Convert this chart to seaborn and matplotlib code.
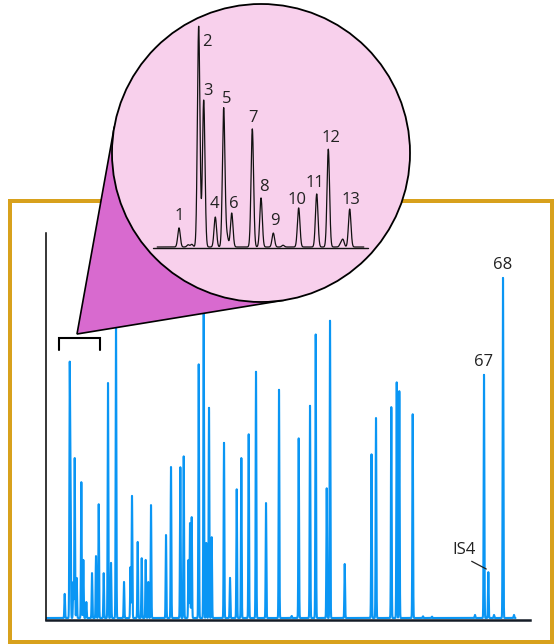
import numpy as np
import pandas as pd
import seaborn as sns
import matplotlib
matplotlib.use('Agg')
import matplotlib.pyplot as plt
from matplotlib.patches import Circle, Rectangle, Polygon
from matplotlib.transforms import IdentityTransform

# main chromatogram: retention time (min) and relative height (%)
peak_times = [1.87, 2.37, 2.45, 2.73, 2.87, 3.07, 3.53, 3.73, 4.03, 4.60, 5.00, 5.27,
              5.77, 6.20, 6.50, 7.00, 7.80, 8.45, 8.60, 9.17, 9.57, 9.97, 10.23, 10.50,
              12.00, 12.50, 13.43, 13.77, 14.25, 14.40, 14.57, 15.27, 15.77, 16.03, 16.30,
              16.57, 17.80, 18.40, 19.07, 19.53, 20.27, 21.00, 22.00, 23.30, 24.57, 25.27,
              26.40, 26.97, 28.07, 28.40, 29.87, 32.55, 33.00, 34.53, 35.07, 35.33, 36.67,
              37.70, 38.60, 42.90, 43.80, 44.23, 44.80, 45.70, 46.80]
peak_heights = [7.1, 71.5, 46.0, 10.6, 47.1, 11.8, 40.0, 17.1, 4.7, 13.2, 18.2, 33.5,
                13.2, 69.1, 16.2, 88.2, 10.6, 15.0, 35.9, 22.4, 17.6, 17.1, 10.6, 33.2,
                24.4, 44.4, 44.4, 47.6, 17.1, 27.9, 29.7, 74.7, 92.1, 22.1, 61.8,
                23.8, 51.5, 11.8, 37.9, 47.1, 54.1, 72.4, 33.8, 67.1, 0.6, 52.9,
                62.4, 83.5, 38.2, 87.4, 15.9, 48.2, 58.8, 62.1, 69.4, 66.8, 60.0,
                0.5, 0.4, 0.9, 71.5, 13.5, 0.9, 100.0, 0.9]
main_labels = {"67": 43.80, "68": 45.70}
is_label = "IS4"
is_time = 44.23

# zoomed window (bracketed region) and its peaks
zoom_range = (1.3, 5.4)
inset_times = [1.796, 1.97, 2.04, 2.171, 2.267, 2.488, 2.648, 2.711, 2.801, 3.194,
               3.360, 3.594, 3.78, 4.078, 4.422, 4.643, 4.88, 4.923, 5.051]
inset_heights = [8.6, 1.0, 1.2, 99.5, 66.2, 13.5, 62.6, 5.0, 15.3, 53.2,
                 22.1, 6.3, 0.8, 17.6, 23.9, 44.1, 1.5, 3.2, 17.1]
inset_names = ["1", "", "", "2", "3", "4", "5", "", "6", "7",
               "8", "9", "", "10", "11", "12", "", "", "13"]
# label offsets in pixels (dx, dy) from the peak top
label_offsets = {"1": (0, 12), "2": (8, -16), "3": (4.5, 9), "4": (-1, 13), "5": (3, 9),
                 "6": (2, 9), "7": (1, 11), "8": (3, 11), "9": (2, 12), "10": (-2, 8),
                 "11": (-2, 11), "12": (3, 11), "13": (1, 9)}


def trace(times, heights, t, sigma):
    y = np.zeros_like(t)
    for c, h in zip(times, heights):
        y += h * np.exp(-0.5 * ((t - c) / sigma) ** 2)
    return y


sns.set_theme(style="white")
plt.rcParams['font.family'] = ['Open Sans', 'DejaVu Sans']

W, H = 554, 644
fig = plt.figure(figsize=(W / 100, H / 100), dpi=100)
px = 0.72  # points per pixel

# gold frame
frame = Rectangle((9.5 / W, 2.5 / H), (551.5 - 9.5) / W, (641.5 - 200.5) / H,
                  transform=fig.transFigure, fill=False, ec="#D8A11C", lw=4 * px, zorder=0.5)
fig.add_artist(frame)

# main axes
ax = fig.add_axes([46 / W, 24 / H, (530 - 46) / W, (620 - 233) / H], zorder=1)
t = np.arange(0.1, 46.95, 0.004)
df = pd.DataFrame({"time": t, "signal": trace(peak_times, peak_heights, t, 0.035)})
sns.lineplot(data=df, x="time", y="signal", ax=ax, color="#0A96F4", lw=1.5, estimator=None)
ax.set_xlim(0, 48.4)
ax.set_ylim(-0.59, 113.2)
ax.set_xticks([])
ax.set_yticks([])
ax.set_xlabel("")
ax.set_ylabel("")
ax.set_facecolor("none")
for s in ["top", "right"]:
    ax.spines[s].set_visible(False)
ax.spines["left"].set_color("#000000")
ax.spines["left"].set_linewidth(1.1)
ax.spines["bottom"].set_color("#141c26")
ax.spines["bottom"].set_linewidth(1.8)

pk = dict(zip(peak_times, peak_heights))
for name, tt in main_labels.items():
    ax.annotate(name, (tt, pk[tt]), xytext=(0, 13 * px), textcoords="offset points",
                ha="center", va="center", fontsize=12, color="#222222")
ax.annotate(is_label, (is_time - 0.2, pk[is_time] + 0.9), xytext=(-22 * px, 19 * px),
            textcoords="offset points", ha="center", va="center", fontsize=12, color="#222222",
            arrowprops=dict(arrowstyle="-", color="#222222", lw=0.9, shrinkA=0, shrinkB=0,
                            relpos=(0.55, 0.0)))

# bracket over the zoomed region
z0, z1 = zoom_range
ax.plot([z0, z0, z1, z1], [78.8, 82.2, 82.2, 78.8], color="black", lw=1.5, solid_joinstyle="miter")

# inset (magnified circle)
cx, cy, r = 261, 153, 149
ins = fig.add_axes([(cx - r) / W, (H - cy - r) / H, 2 * r / W, 2 * r / H], zorder=3)
ins.axis("off")
ins.add_patch(Circle((0.5, 0.5), 0.5, transform=ins.transAxes, fc="#F8D0EC", ec="black",
                     lw=1.3, clip_on=False, zorder=0))
scale = (z1 - z0) / 215.0
ins.set_xlim(z0 - 41 * scale, z1 + 42 * scale)
ins.set_ylim((247 - 302) / 2.22, (247 - 4) / 2.22)
ti = np.arange(1.38, 5.32, 0.002)
di = pd.DataFrame({"time": ti, "signal": trace(inset_times, inset_heights, ti, 0.024)})
sns.lineplot(data=di, x="time", y="signal", ax=ins, color="#111111", lw=0.9, estimator=None)
ins.plot([z0, z1], [-0.45, -0.45], color="#111111", lw=1.0)
for name, tt, hh in zip(inset_names, inset_times, inset_heights):
    if not name:
        continue
    dx, dy = label_offsets[name]
    ins.annotate(name, (tt, hh), xytext=(dx * px, dy * px), textcoords="offset points",
                 ha="center", va="center", fontsize=12, color="#222222")

# connector cone from bracket to circle (display pixels)
P = ax.transData.transform((3.1, 83.5))
C = np.array([cx, H - cy], dtype=float)
d = P - C
base = np.arctan2(d[1], d[0])
alpha = np.arccos(r / np.hypot(*d))
T1 = C + r * np.array([np.cos(base + alpha), np.sin(base + alpha)])
T2 = C + r * np.array([np.cos(base - alpha), np.sin(base - alpha)])
cone = Polygon([P, T1, T2], closed=True, transform=IdentityTransform(), fc="#D86ACF",
               ec="black", lw=1.2, joinstyle="miter", zorder=2)
fig.add_artist(cone)

fig.savefig("out.png", dpi=100)
